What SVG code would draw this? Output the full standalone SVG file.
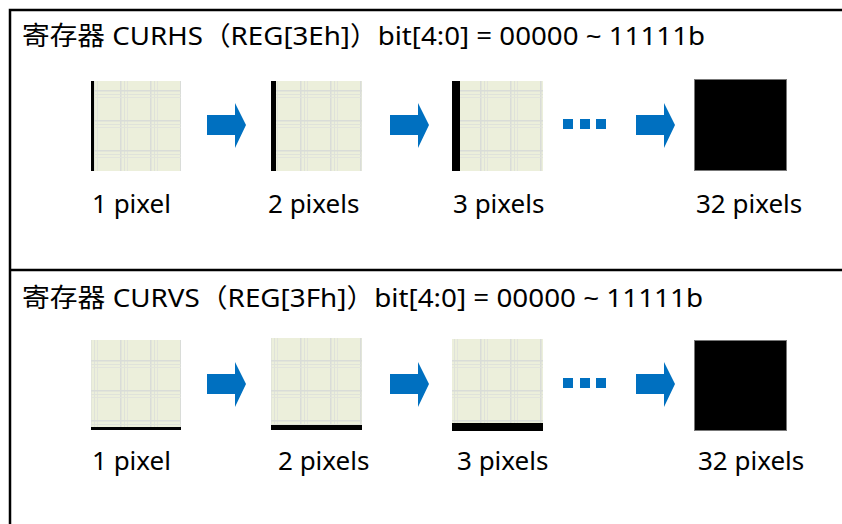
<svg xmlns="http://www.w3.org/2000/svg" width="842" height="524" viewBox="0 0 842 524">
<style>
.t{font-family:"Noto Sans","Open Sans","Noto Sans CJK SC",sans-serif;font-size:26px;fill:#000}
.lb{font-family:"Noto Sans","Open Sans",sans-serif;font-size:26px;fill:#000}
.arr{fill:#0070c0}
.blk{fill:#000}
.frame{stroke:#000;stroke-width:2.5;fill:none}
</style>
<defs>
<pattern id="plaid" patternUnits="userSpaceOnUse" width="30" height="30">
<rect width="30" height="30" fill="#ecefdb"/>
<rect x="0" y="0" width="1.5" height="30" fill="#d9dcd8"/>
<rect x="4" y="0" width="1" height="30" fill="#dfe2da"/>
<rect x="7" y="0" width="1" height="30" fill="#e2e4dc"/>
<rect x="0" y="0" width="30" height="1.5" fill="#d9dcd8"/>
<rect x="0" y="4" width="30" height="1" fill="#dfe2da"/>
<rect x="0" y="7" width="30" height="1" fill="#e2e4dc"/>
</pattern>
<path id="arrow" d="M0,-10 H28 V-22 L39,0 L28,23 V10 H0 Z"/>
</defs>
<g id="frame">
<path class="frame" d="M10,524 V10 H842"/>
<line class="frame" x1="10" y1="270" x2="842" y2="270"/>
</g>
<g id="title1"><text class="t" x="22" y="45" textLength="683" lengthAdjust="spacingAndGlyphs">寄存器 CURHS（REG[3Eh]）bit[4:0] = 00000 ~ 11111b</text></g>
<g id="title2"><text class="t" x="22" y="307" textLength="681" lengthAdjust="spacingAndGlyphs">寄存器 CURVS（REG[3Fh]）bit[4:0] = 00000 ~ 11111b</text></g>

<g id="h1"><rect x="91" y="81" width="90" height="90" fill="url(#plaid)"/><rect class="blk" x="91" y="81" width="3" height="90"/></g>
<g id="h2"><rect x="271" y="81" width="91" height="90" fill="url(#plaid)"/><rect class="blk" x="271" y="81" width="5" height="90"/></g>
<g id="h3"><rect x="452" y="81" width="91" height="90" fill="url(#plaid)"/><rect class="blk" x="452" y="81" width="8" height="90"/></g>
<g id="h32"><rect x="694.5" y="79.5" width="92" height="91" fill="#000" stroke="#777" stroke-width="1"/></g>

<g id="v1"><rect x="91" y="340" width="90" height="90" fill="url(#plaid)"/><rect class="blk" x="91" y="427" width="90" height="3"/></g>
<g id="v2"><rect x="271" y="338" width="91" height="92" fill="url(#plaid)"/><rect class="blk" x="271" y="425" width="91" height="5"/></g>
<g id="v3"><rect x="452" y="339" width="91" height="92" fill="url(#plaid)"/><rect class="blk" x="452" y="423" width="91" height="8"/></g>
<g id="v32"><rect x="694.5" y="340.5" width="92" height="90" fill="#000" stroke="#777" stroke-width="1"/></g>

<g id="connectors">
<use href="#arrow" class="arr" x="207" y="125"/>
<use href="#arrow" class="arr" x="390" y="125"/>
<use href="#arrow" class="arr" x="636" y="125"/>
<rect class="arr" x="563" y="119" width="10" height="10"/>
<rect class="arr" x="580" y="119" width="10" height="10"/>
<rect class="arr" x="596" y="119" width="10" height="10"/>
<use href="#arrow" class="arr" x="207" y="384"/>
<use href="#arrow" class="arr" x="390" y="384"/>
<use href="#arrow" class="arr" x="636" y="384"/>
<rect class="arr" x="563" y="378" width="10" height="10"/>
<rect class="arr" x="580" y="378" width="10" height="10"/>
<rect class="arr" x="596" y="378" width="10" height="10"/>
</g>

<g id="labels">
<text class="lb" x="92" y="213">1 pixel</text>
<text class="lb" x="268" y="213">2 pixels</text>
<text class="lb" x="453" y="213">3 pixels</text>
<text class="lb" x="696" y="213">32 pixels</text>
<text class="lb" x="92" y="470">1 pixel</text>
<text class="lb" x="278" y="470">2 pixels</text>
<text class="lb" x="457" y="470">3 pixels</text>
<text class="lb" x="698" y="470">32 pixels</text>
</g>
</svg>
